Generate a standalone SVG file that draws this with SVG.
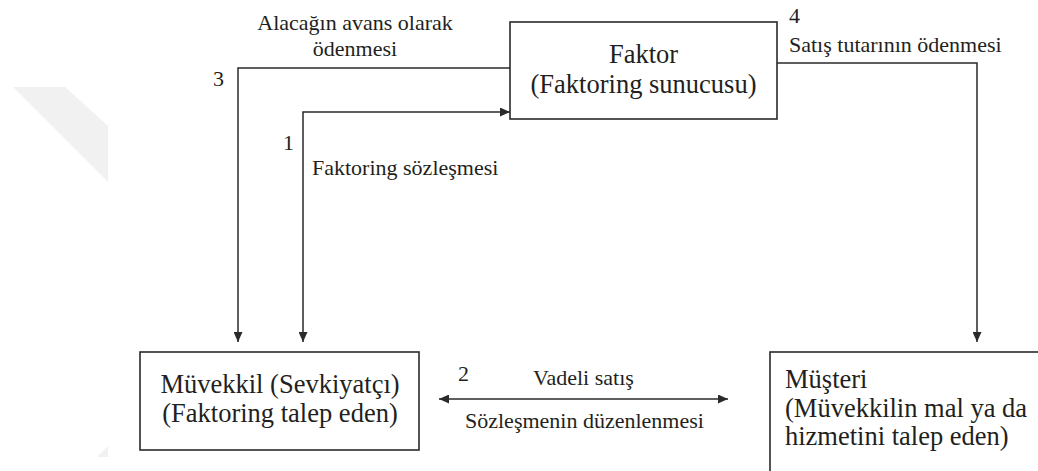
<svg xmlns="http://www.w3.org/2000/svg" width="1038" height="471" viewBox="0 0 1038 471">
<style>
  .box { fill: #ffffff; stroke: #2a2a2a; stroke-width: 1.6; }
  .line { fill: none; stroke: #2a2a2a; stroke-width: 1.5; }
  .node { font-family: "Liberation Serif", "Times New Roman", serif; font-size: 26.5px; fill: #231f20; }
  .lbl { font-family: "Liberation Serif", "Times New Roman", serif; font-size: 22px; fill: #231f20; }
  .wm { fill: #f1f1f1; }
</style>
<defs>
  <marker id="arr" viewBox="0 0 10 9" refX="10" refY="4.5" markerWidth="10" markerHeight="9" markerUnits="userSpaceOnUse" orient="auto-start-reverse">
    <path d="M0,0 L10,4.5 L0,9 z" fill="#2a2a2a"/>
  </marker>
</defs>
<rect width="1038" height="471" fill="#ffffff"/>
<g id="watermark">
  <polygon class="wm" points="13,87 65,87 108,126 108,182"/>
  <polygon class="wm" points="97,457 108,446 108,457"/>
</g>
<g id="connectors">
  <polyline class="line" points="510,68 238,68 238,342" marker-end="url(#arr)"/>
  <polyline class="line" points="303,342 303,112 510,112" marker-start="url(#arr)" marker-end="url(#arr)"/>
  <polyline class="line" points="777,63 977,63 977,342" marker-end="url(#arr)"/>
  <line class="line" x1="439" y1="399" x2="728" y2="399" marker-start="url(#arr)" marker-end="url(#arr)"/>
</g>
<g id="node-faktor">
  <rect class="box" x="510" y="22" width="267" height="97"/>
  <text class="node" x="643.5" y="63" text-anchor="middle">Faktor</text>
  <text class="node" x="643.5" y="93" text-anchor="middle">(Faktoring sunucusu)</text>
</g>
<g id="node-muvekkil">
  <rect class="box" x="140" y="352" width="279" height="98"/>
  <text class="node" x="280" y="393" text-anchor="middle">Müvekkil (Sevkiyatçı)</text>
  <text class="node" x="280" y="422" text-anchor="middle">(Faktoring talep eden)</text>
</g>
<g id="node-musteri">
  <rect class="box" x="770" y="352" width="300" height="130"/>
  <text class="node" x="785" y="388">Müşteri</text>
  <text class="node" x="785" y="417">(Müvekkilin mal ya da</text>
  <text class="node" x="785" y="445">hizmetini talep eden)</text>
</g>
<g id="labels">
  <text class="lbl" x="355" y="30" text-anchor="middle">Alacağın avans olarak</text>
  <text class="lbl" x="355" y="56" text-anchor="middle">ödenmesi</text>
  <text class="lbl" x="213" y="86">3</text>
  <text class="lbl" x="283" y="150">1</text>
  <text class="lbl" x="312" y="175">Faktoring sözleşmesi</text>
  <text class="lbl" x="789" y="23">4</text>
  <text class="lbl" x="789" y="52">Satış tutarının ödenmesi</text>
  <text class="lbl" x="458" y="381">2</text>
  <text class="lbl" x="533" y="385">Vadeli satış</text>
  <text class="lbl" x="465" y="428">Sözleşmenin düzenlenmesi</text>
</g>
</svg>
